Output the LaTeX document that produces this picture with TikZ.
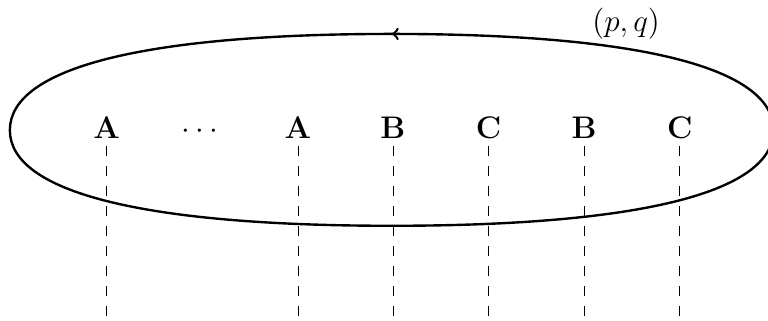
\documentclass[tikz,border=0pt]{standalone}
\usepackage{amsmath,amssymb}
\usetikzlibrary{decorations.markings}

\begin{document}
\begin{tikzpicture}[x=1cm,y=1cm,>=to,
  every node/.style={anchor=base,font=\fontsize{13.5}{16}\selectfont},
  strand/.style={dash pattern=on 4.6pt off 4.6pt},
  orbit/.style={line width=1.1pt,postaction={decorate},
    decoration={markings,mark=at position 0.25 with {\arrow{>}}}}]
  \useasboundingbox (0,0) rectangle (12.45,5.19);
  \draw[orbit] (12.54,3.08) .. controls (12.54,4.09) and (10.37,4.64) .. (6.35,4.64)
    .. controls (2.33,4.64) and (0.16,4.09) .. (0.16,3.08)
    .. controls (0.16,2.07) and (2.33,1.53) .. (6.35,1.53)
    .. controls (10.37,1.53) and (12.54,2.07) .. (12.54,3.08) -- cycle;
  \node (pq) at (10.15,4.68) {$(p,q)$};
  \node (a1) at (1.73,2.94) {$\mathbf{A}$};
  \node (dots) at (3.28,2.94) {$\cdots$};
  \node (a2) at (4.83,2.94) {$\mathbf{A}$};
  \node (b1) at (6.37,2.94) {$\mathbf{B}$};
  \node (c1) at (7.92,2.94) {$\mathbf{C}$};
  \node (b2) at (9.47,2.94) {$\mathbf{B}$};
  \node (c2) at (11.02,2.94) {$\mathbf{C}$};
  \coordinate (ea1) at (1.73,0);
  \coordinate (ea2) at (4.83,0);
  \coordinate (eb1) at (6.37,0);
  \coordinate (ec1) at (7.92,0);
  \coordinate (eb2) at (9.47,0);
  \coordinate (ec2) at (11.02,0);
  \draw[strand] (a1.south) -- (ea1);
  \draw[strand] (a2.south) -- (ea2);
  \draw[strand] (b1.south) -- (eb1);
  \draw[strand] (c1.south) -- (ec1);
  \draw[strand] (b2.south) -- (eb2);
  \draw[strand] (c2.south) -- (ec2);
\end{tikzpicture}
\end{document}
